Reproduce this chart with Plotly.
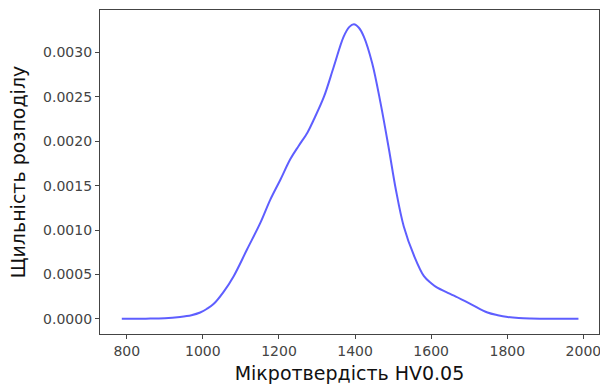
import plotly.graph_objects as go

hardness = [787, 850, 900, 940, 970, 993, 1010, 1028, 1054, 1081, 1116, 1151, 1177, 1204,
            1230, 1252, 1275, 1291, 1318, 1344, 1370, 1385, 1397, 1410, 1423, 1445, 1467,
            1489, 1507, 1528, 1555, 1581, 1600, 1616, 1640, 1660, 1704, 1748, 1775, 1801,
            1830, 1862, 1900, 1950, 1987]
density = [0.0, 0.000001, 0.000005, 0.00002, 0.00004, 0.00007, 0.00011, 0.000165, 0.0003,
           0.00048, 0.00078, 0.00108, 0.00134, 0.00157, 0.0018, 0.00195, 0.0021, 0.00224,
           0.0025, 0.00284, 0.00318, 0.00329, 0.00332, 0.00328, 0.00318, 0.00288, 0.00243,
           0.00191, 0.00146, 0.00104, 0.00071, 0.00048, 0.0004, 0.00035, 0.0003, 0.00026,
           0.000165, 0.00007, 0.00004, 0.00002, 0.000008, 0.000003, 0.000001, 0.0, 0.0]

x_ticks = [800, 1000, 1200, 1400, 1600, 1800, 2000]
y_ticks = [0.0, 0.0005, 0.0010, 0.0015, 0.0020, 0.0025, 0.0030]

fig = go.Figure(go.Scatter(
    x=hardness, y=density, mode="lines",
    line=dict(color="rgba(40,40,255,0.75)", width=2, shape="spline", smoothing=1.0),
    hoverinfo="skip"))

axis_common = dict(showline=True, linecolor="#444", linewidth=1.3, mirror=True,
                   ticks="outside", ticklen=4, tickcolor="#444", showgrid=False,
                   zeroline=False, automargin=False, ticklabeloverflow="allow",
                   tickfont=dict(family="DejaVu Sans", size=14, color="#444"))

fig.update_layout(
    width=600, height=387,
    margin=dict(l=100, r=1, t=10, b=53),
    paper_bgcolor="white", plot_bgcolor="white",
    showlegend=False,
    xaxis=dict(range=[729.7, 2041], tickvals=x_ticks, ticktext=[str(v) for v in x_ticks],
               title=dict(text="Мікротвердість HV0.05", standoff=8,
                          font=dict(family="DejaVu Sans", size=19, color="#111")),
               **axis_common),
    yaxis=dict(range=[-0.000172, 0.00348], tickvals=y_ticks,
               ticktext=[f"{v:.4f}" for v in y_ticks],
               title=dict(text="Щильність розподілу", standoff=12,
                          font=dict(family="DejaVu Sans", size=19, color="#111")),
               **axis_common),
)

fig.write_html("out.html", config={"displayModeBar": False},
               post_script="document.body.style.margin='0';document.body.style.overflow='hidden';")
